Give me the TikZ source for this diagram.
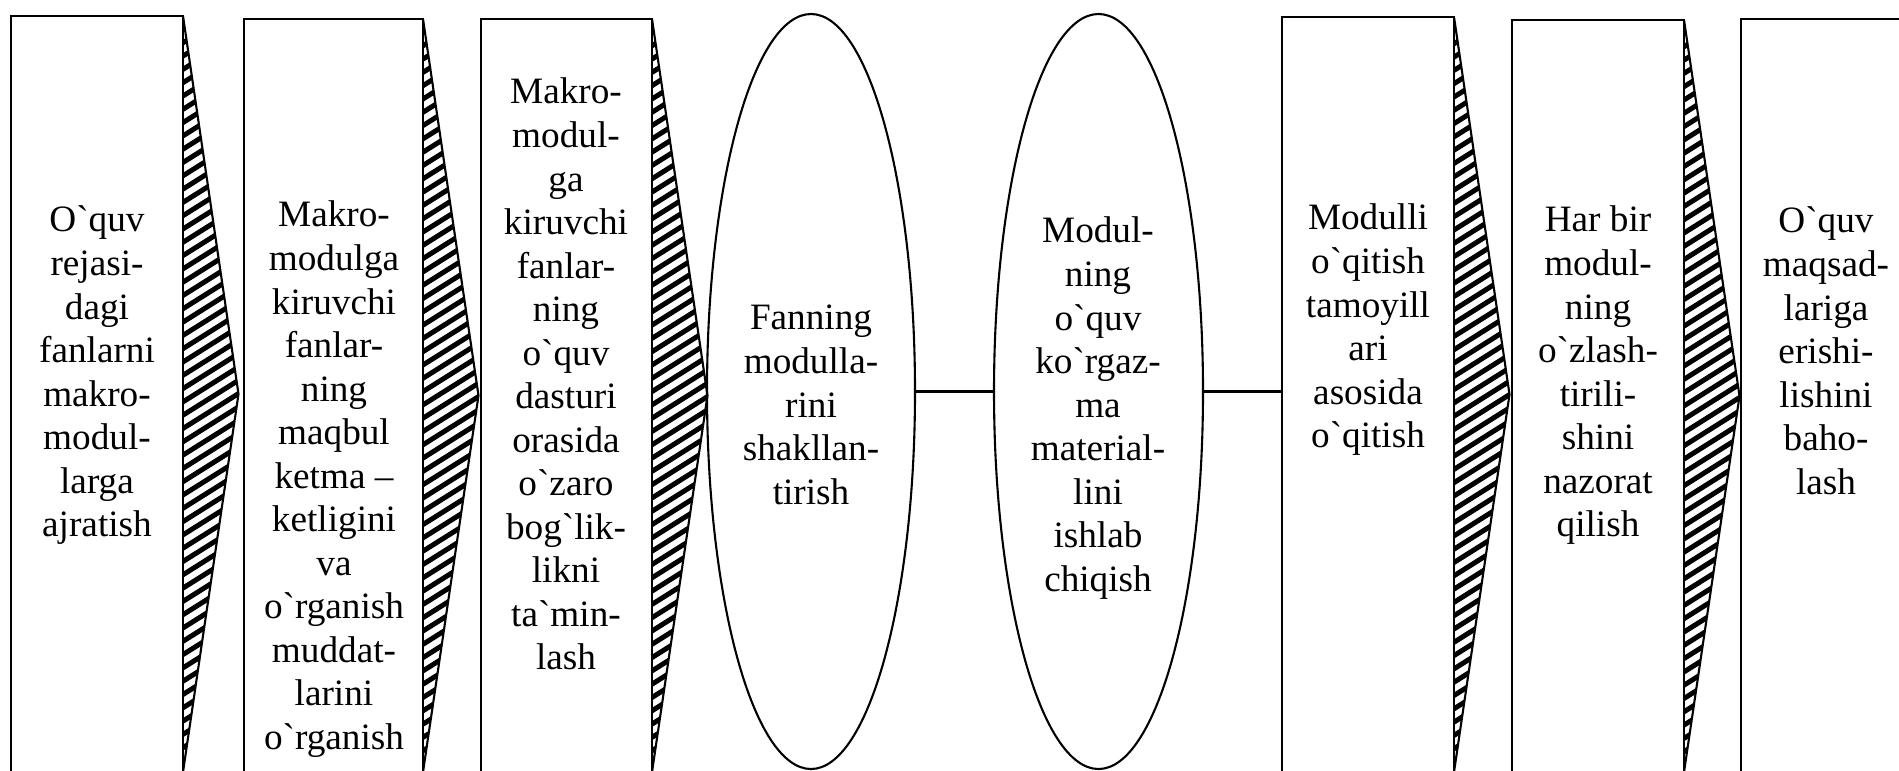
\documentclass[tikz,border=0pt]{standalone}
\usepackage{fontspec}
\newfontfamily\tnr{Liberation Serif}
\usetikzlibrary{shapes.geometric,calc}
\tikzset{
  boxst/.style={draw, line width=0.8pt, rectangle, inner sep=0pt, outer sep=0pt},
  ellst/.style={draw, line width=0.8pt, ellipse, inner sep=0pt, outer sep=0pt},
  txt/.style={anchor=north, inner sep=0pt, align=center, font=\tnr\fontsize{14.2}{16.6}\selectfont},
  link/.style={line width=0.8pt},
  tri/.style={line width=0.8pt, line join=miter},
  hatchline/.style={line width=1.9pt}
}
\newcommand{\mybox}[4]{\node[boxst, minimum width={(#3-#2)*0.3815pt}, minimum height={(772-#4)*0.3815pt}] (#1) at ({(#2+#3)/2},{(772+#4)/2}) {};}
\begin{document}
\begin{tikzpicture}[x=0.3815pt, y=-0.3815pt]
\useasboundingbox (0,0) rectangle (1899,770);
\clip (0,0) rectangle (1899,770);
% boxes
\mybox{b1}{11}{183}{16}
\mybox{b2}{244}{423}{19}
\mybox{b3}{481}{652}{19}
\mybox{b6}{1282}{1454}{17}
\mybox{b7}{1512}{1684}{20}
\mybox{b8}{1741}{1913}{19}
% ellipses
\node[ellst, minimum width={208*0.3815pt}, minimum height={755*0.3815pt}] (e1) at (811,391.5) {};
\node[ellst, minimum width={209*0.3815pt}, minimum height={755*0.3815pt}] (e2) at (1098.5,391.5) {};
% connectors
\draw[link] (e1.east) -- (e2.west);
\draw[link] (e2.east) -- (e2.east -| b6.west);
% hatched triangles
\foreach \bx in {b1,b2,b3,b6,b7}{
  \coordinate (tip-\bx) at ($(\bx.east)+(55.5,0)$);
  \begin{scope}
    \clip (\bx.north east) -- (tip-\bx) -- (\bx.south east) -- cycle;
    \foreach \k in {0,...,60}{
      \draw[hatchline] ($(\bx.north east)+(-5,{\k*13.3-10})$) -- ++(70,-44);
    }
  \end{scope}
  \draw[tri] (\bx.north east) -- (tip-\bx) -- (\bx.south east);
}
% texts
\node[txt] (t1) at (97,201) {\strut O`quv\\rejasi-\\dagi\\fanlarni\\makro-\\modul-\\larga\\ajratish};
\node[txt] (t2) at (334,196) {\strut Makro-\\modulga\\kiruvchi\\fanlar-\\ning\\maqbul\\ketma –\\ketligini\\va\\o`rganish\\muddat-\\larini\\o`rganish};
\node[txt] (t3) at (566,73) {\strut Makro-\\modul-\\ga\\kiruvchi\\fanlar-\\ning\\o`quv\\dasturi\\orasida\\o`zaro\\bog`lik-\\likni\\ta`min-\\lash};
\node[txt] (t4) at (811,299) {\strut Fanning\\modulla-\\rini\\shakllan-\\tirish};
\node[txt] (t5) at (1098,212) {\strut Modul-\\ning\\o`quv\\ko`rgaz-\\ma\\material-\\lini\\ishlab\\chiqish};
\node[txt] (t6) at (1368,199) {\strut Modulli\\o`qitish\\tamoyill\\ari\\asosida\\o`qitish};
\node[txt] (t7) at (1598,201) {\strut Har bir\\modul-\\ning\\o`zlash-\\tirili-\\shini\\nazorat\\qilish};
\node[txt] (t8) at (1826,202) {\strut O`quv\\maqsad-\\lariga\\erishi-\\lishini\\baho-\\lash};
\end{tikzpicture}
\end{document}
